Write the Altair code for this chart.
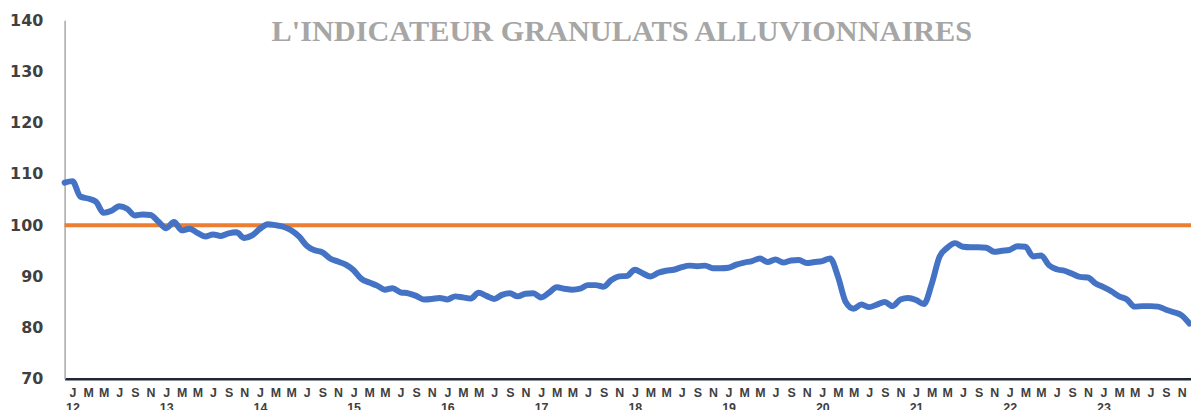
import altair as alt
import pandas as pd

# Month index: -1 = Dec 2011, 0 = Jan 2012 ... 143 = Dec 2023
START_INDEX = -1
VALUES = [
    108.3,
    108.6, 105.6, 105.2, 104.6, 102.4, 102.8, 103.7, 103.2, 101.9, 102.1, 102.0, 100.7,
    99.4, 100.6, 99.0, 99.3, 98.5, 97.8, 98.2, 97.9, 98.4, 98.6, 97.5, 98.0,
    99.3, 100.2, 100.0, 99.7, 99.0, 97.8, 96.0, 95.1, 94.7, 93.5, 92.9, 92.3,
    91.2, 89.5, 88.8, 88.2, 87.4, 87.7, 86.9, 86.7, 86.2, 85.5, 85.6, 85.8,
    85.5, 86.1, 85.9, 85.7, 86.8, 86.2, 85.6, 86.4, 86.7, 86.1, 86.6, 86.7,
    85.9, 86.8, 87.9, 87.6, 87.4, 87.6, 88.3, 88.3, 88.0, 89.3, 90.0, 90.1,
    91.3, 90.6, 90.0, 90.7, 91.1, 91.3, 91.8, 92.1, 92.0, 92.1, 91.6, 91.6,
    91.7, 92.3, 92.7, 93.0, 93.5, 92.8, 93.3, 92.7, 93.1, 93.2, 92.6, 92.8,
    93.0, 93.5, 90.0, 85.0, 83.7, 84.5, 84.0, 84.5, 85.0, 84.2, 85.5, 85.8,
    85.4, 84.6, 88.5, 93.8, 95.6, 96.5, 95.8, 95.7, 95.7, 95.6, 94.8, 95.0,
    95.2, 95.9, 95.8, 93.9, 94.1, 92.2, 91.4, 91.1, 90.5, 89.9, 89.8, 88.6,
    87.9, 87.1, 86.1, 85.5, 84.1, 84.2, 84.2, 84.1, 83.5, 83.0, 82.4, 80.8,
]
MONTH_LETTERS = ["J", "M", "M", "J", "S", "N"]  # every other month
YEAR_LABELS = ["12", "13", "14", "15", "16", "17", "18", "19", "20", "21", "22", "23"]
Y_TICKS = [70, 80, 90, 100, 110, 120, 130, 140]
REFERENCE_LEVEL = [100]
TITLE = "L'INDICATEUR GRANULATS ALLUVIONNAIRES"

df = pd.DataFrame({
    "idx": list(range(START_INDEX, START_INDEX + len(VALUES))),
    "value": VALUES,
})
ref_df = pd.DataFrame({"level": REFERENCE_LEVEL})
title_df = pd.DataFrame({"t": [TITLE]})

x_ticks = list(range(0, 144, 2))
letters_js = "[" + ",".join(f"'{m}'" for m in MONTH_LETTERS) + "]"
years_js = "[" + ",".join(f"'{y}'" for y in YEAR_LABELS) + "]"
label_expr = (
    f"datum.value % 12 == 0 ? [{letters_js}[0], {years_js}[floor(datum.value / 12)]]"
    f" : {letters_js}[floor((datum.value % 12) / 2)]"
)

x_scale = alt.Scale(domain=[-1, 143.2], nice=False, zero=False)
y_scale = alt.Scale(domain=[70, 140], nice=False, zero=False)

x_axis = alt.Axis(
    values=x_ticks, labelExpr=label_expr, labelOverlap=False, ticks=False,
    grid=False, title=None, labelFont="Liberation Sans", labelFontWeight="bold",
    labelFontSize=12.5, labelColor="#404040", labelPadding=8, labelLineHeight=15,
    labelBaseline="top", labelAlign="center", labelFlush=False,
    domainColor="#1f2736", domainWidth=2.5,
)
y_axis = alt.Axis(
    values=Y_TICKS, ticks=False, grid=False, title=None,
    labelFont="DejaVu Sans", labelFontWeight="bold", labelFontSize=16,
    labelColor="#404040", labelPadding=22, domainColor="#a6a6a6", domainWidth=1.5,
)

line = alt.Chart(df).mark_line(
    color="#4472C4", strokeWidth=6, interpolate="monotone", strokeCap="round", strokeJoin="round"
).encode(
    x=alt.X("idx:Q", scale=x_scale, axis=x_axis),
    y=alt.Y("value:Q", scale=y_scale, axis=y_axis),
)

ref = alt.Chart(ref_df).mark_rule(color="#ED7D31", strokeWidth=4).encode(
    y=alt.Y("level:Q", scale=y_scale),
)

title = alt.Chart(title_df).mark_text(
    font="Liberation Serif", fontWeight="bold", fontSize=30.5, color="#a6a6a6",
    align="center", baseline="middle",
).encode(
    text="t:N",
    x=alt.value(561),
    y=alt.value(12),
)

chart = alt.layer(ref, line, title).properties(
    width=1134, height=361,
    autosize=alt.AutoSizeParams(type="none"),
    padding={"left": 57, "top": 11, "right": 0, "bottom": 30},
).configure_view(stroke=None)

chart.save("out.html", embed_options={"renderer": "svg", "actions": False})
